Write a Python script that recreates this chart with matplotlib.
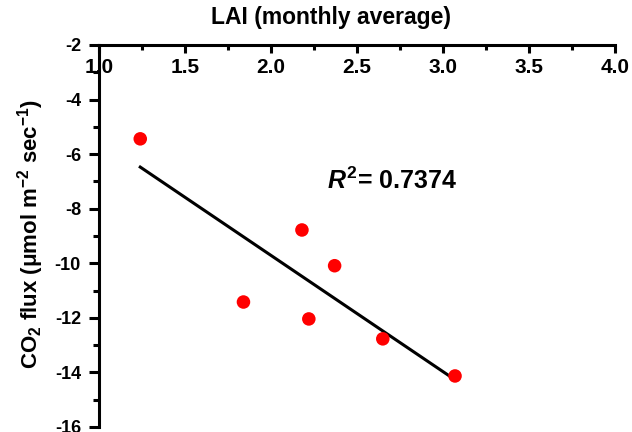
import numpy as np
import matplotlib
matplotlib.use('Agg')
import matplotlib.pyplot as plt
from matplotlib.ticker import MultipleLocator

plt.rcParams['font.family'] = ['Liberation Sans', 'DejaVu Sans']
plt.rcParams['font.weight'] = 'bold'
plt.rcParams['axes.unicode_minus'] = False
plt.rcParams['mathtext.fontset'] = 'custom'
plt.rcParams['mathtext.rm'] = 'Liberation Sans:bold'
plt.rcParams['mathtext.bf'] = 'Liberation Sans:bold'
plt.rcParams['mathtext.it'] = 'Liberation Sans:italic'

# monthly LAI vs CO2 flux
lai = [1.24, 1.84, 2.18, 2.22, 2.37, 2.65, 3.07]
flux = [-5.44, -11.42, -8.78, -12.04, -10.09, -12.77, -14.13]

x_ticks = [1.0, 1.5, 2.0, 2.5, 3.0, 3.5, 4.0]
y_ticks = [-16, -14, -12, -10, -8, -6, -4, -2]

# linear fit
slope, intercept = np.polyfit(lai, flux, 1)
fit_x = np.array([min(lai), max(lai)])
fit_y = slope * fit_x + intercept

fig = plt.figure(figsize=(6.32, 4.32), dpi=100)
ax = fig.add_axes([0.1566, 0.0116, 0.8165, 0.8843])

ax.plot(fit_x, fit_y, color='black', lw=2.2, zorder=2)
ax.scatter(lai, flux, s=95, color='red', edgecolors='none', zorder=3)

ax.set_xlim(1.0, 4.0)
ax.set_ylim(-16, -2)
ax.set_xticks(x_ticks)
ax.set_xticklabels(['%.1f' % v for v in x_ticks])
ax.set_yticks(y_ticks)
ax.xaxis.set_minor_locator(MultipleLocator(0.25))
ax.yaxis.set_minor_locator(MultipleLocator(1))

for s in ['right', 'bottom']:
    ax.spines[s].set_visible(False)
for s in ['left', 'top']:
    ax.spines[s].set_linewidth(2.2)

ax.tick_params(axis='x', which='both', top=True, bottom=False,
               labeltop=True, labelbottom=False, direction='in',
               width=2.2, labelsize=15, pad=-23)
ax.tick_params(axis='x', which='major', length=6)
ax.tick_params(axis='x', which='minor', length=3.5)
ax.tick_params(axis='y', which='both', direction='out', width=2.2,
               labelsize=13, pad=6)
ax.tick_params(axis='y', which='major', length=7)
ax.tick_params(axis='y', which='minor', length=4)

ax.set_xlabel('LAI (monthly average)', fontsize=16.5, fontweight='bold', va='center')
ax.xaxis.set_label_position('top')
ax.xaxis.set_label_coords(0.45, 1.055)

ax.set_ylabel('CO$_2$ flux (\u03bcmol m$^{-2}$ sec$^{-1}$)', fontsize=16,
              fontweight='bold', va='center')
ax.yaxis.set_label_coords(-0.132, 0.505)

ax.text(2.326, -6.98, r'$\mathit{R}^{2}$= 0.7374', fontsize=18,
        fontweight='bold', ha='left', va='center')

fig.savefig('out.png', dpi=100)
